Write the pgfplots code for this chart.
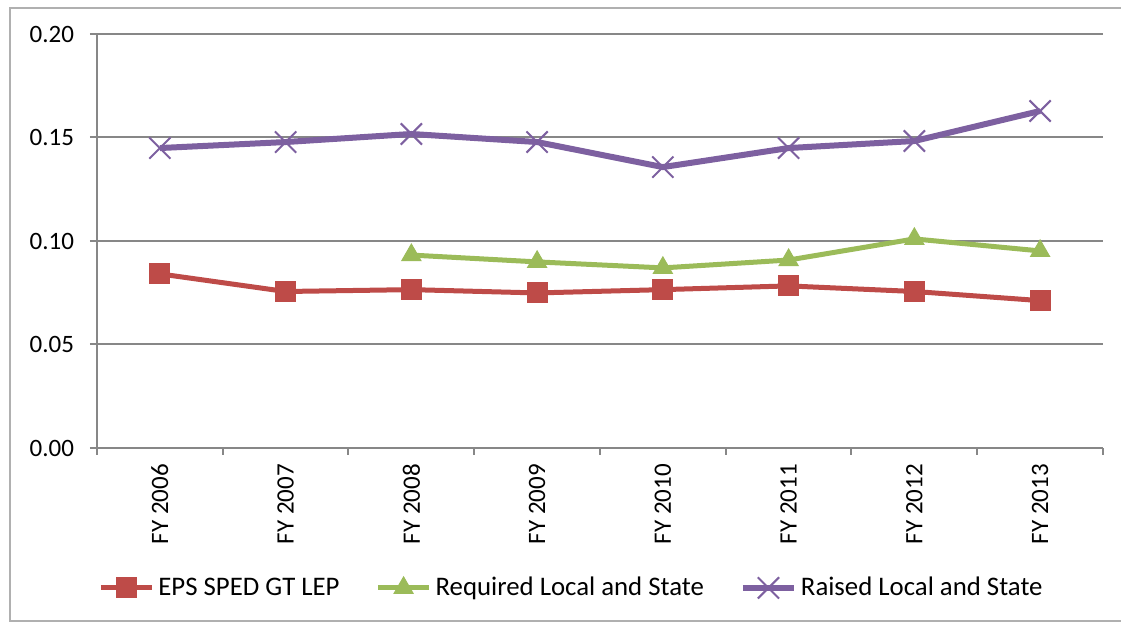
\documentclass[border=0pt]{standalone}
\usepackage{pgfplots}
\pgfplotsset{compat=1.18}
\usepackage{fontspec}
\setmainfont{Carlito}
\definecolor{gridgray}{HTML}{878787}
\definecolor{eps}{HTML}{BE4B48}
\definecolor{req}{HTML}{9BBB59}
\definecolor{rai}{HTML}{7D60A0}
\definecolor{framec}{HTML}{B0B0B0}
\begin{document}
\begin{tikzpicture}
\useasboundingbox (0,0) rectangle (560.5pt,312pt);
\draw[framec, line width=1pt] (560.5pt,308pt) -- (5pt,308pt) -- (5pt,1.5pt) -- (560.5pt,1.5pt);
\begin{axis}[
  at={(48.5pt,88pt)}, anchor=south west,
  scale only axis, width=503pt, height=207pt,
  xmin=-0.5, xmax=7.5, ymin=0, ymax=0.2,
  axis x line*=bottom, axis y line*=left,
  axis line style={gridgray, line width=1pt},
  ytick={0,0.05,0.1,0.15,0.2},
  ymajorgrids, grid style={gridgray, line width=1pt},
  /pgf/number format/assume math mode=true,
  yticklabel={\pgfmathprintnumber[fixed,fixed zerofill,precision=2]{\tick}},
  y tick label style={font=\fontsize{12.5}{14}\selectfont, xshift=-4.5pt},
  ytick style={gridgray, line width=1pt},
  tick align=outside, major tick length=3.5pt,
  xtick={0,...,7},
  xticklabels={FY 2006,FY 2007,FY 2008,FY 2009,FY 2010,FY 2011,FY 2012,FY 2013},
  x tick label style={rotate=90, anchor=east, font=\fontsize{12.5}{14}\selectfont, xshift=-1pt},
  xtick style={draw=none},
  extra x ticks={-0.5,0.5,1.5,2.5,3.5,4.5,5.5,6.5,7.5},
  extra x tick labels={},
  extra x tick style={xtick style={draw=gridgray, line width=1pt}, grid=none},
  legend columns=3,
  legend style={at={(0.4727,-0.338)}, anchor=center, draw=none, fill=none,
    font=\fontsize{13.4}{15}\selectfont, inner sep=0pt,
    /tikz/every even column/.append style={column sep=16pt},
    /tikz/every odd column/.append style={column sep=0pt}},
  legend image code/.code={\draw[mark repeat=2,mark phase=2] plot coordinates {(0pt,0pt) (12.75pt,0pt) (25.5pt,0pt)};},
  clip=false,
]
\addplot[eps, line width=2.5pt, mark=square*, mark size=5pt, mark options={solid, fill=eps, line width=0.5pt}]
  coordinates {(0,0.0841) (1,0.0756) (2,0.0765) (3,0.0749) (4,0.0765) (5,0.0783) (6,0.0756) (7,0.0712)};
\addlegendentry{EPS SPED GT LEP}
\addplot[req, line width=2.5pt, mark=triangle*, mark size=5.5pt, mark options={solid, fill=req, line width=0.5pt}]
  coordinates {(2,0.0932) (3,0.0899) (4,0.0870) (5,0.0908) (6,0.1010) (7,0.0952)};
\addlegendentry{Required Local and State}
\addplot[rai, line width=3pt, mark=x, mark size=7.5pt, mark options={solid, line width=1pt}]
  coordinates {(0,0.1449) (1,0.1478) (2,0.1517) (3,0.1478) (4,0.1357) (5,0.1449) (6,0.1483) (7,0.1628)};
\addlegendentry{Raised Local and State}
\end{axis}
\end{tikzpicture}
\end{document}
